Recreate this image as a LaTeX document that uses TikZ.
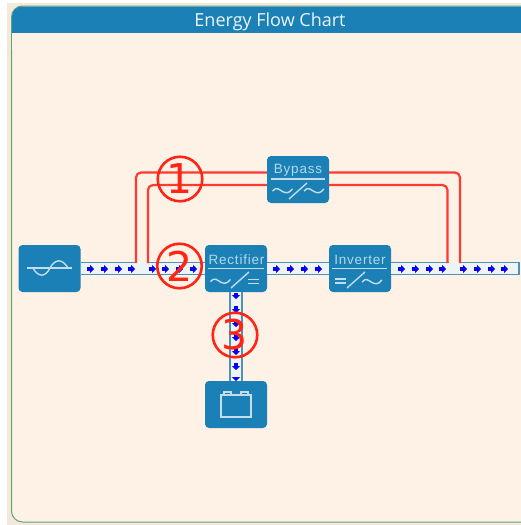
\documentclass[tikz,border=0pt]{standalone}
\usepackage{fontspec}
\setmainfont{Open Sans}
\newfontfamily\boxfont[LetterSpace=6]{Liberation Sans}
\newfontfamily\digitfont{DejaVu Sans}
\usetikzlibrary{arrows.meta}
\definecolor{upsblue}{HTML}{1A80B6}
\definecolor{panelbg}{HTML}{FEF1E6}
\definecolor{outerbg}{HTML}{F3E8DC}
\definecolor{panelline}{HTML}{5FA673}
\definecolor{buswall}{HTML}{4C93BC}
\definecolor{businner}{HTML}{EEF3F4}
\definecolor{iconline}{HTML}{C3DEEA}
\definecolor{labeltext}{HTML}{B4D9EB}
\definecolor{feedred}{HTML}{FF3A30}
\definecolor{markred}{HTML}{FF2414}
\definecolor{flowblue}{HTML}{0C00F0}
\tikzset{
    unit/.style = {fill = upsblue, rounded corners = 4, minimum width = 62, minimum height = 47, inner sep = 0},
    unitlabel/.style = {text = labeltext, font = \boxfont\fontsize{13.5}{15}\selectfont, inner sep = 0},
    icon/.style = {draw = iconline, line width = 1.4},
    bus/.style = {double = businner, draw = buswall, line width = 1.6, double distance = 10.4},
    flow/.style = {draw = flowblue, line width = 3.2, -{Triangle[length = 4, width = 8]}},
    feed/.style = {draw = feedred, line width = 2.2, rounded corners = 5},
    marker/.style = {circle, draw = markred, line width = 2.6, minimum size = 44.5, inner sep = 0, text = markred, font = \digitfont\fontsize{41}{43}\selectfont},
    acwave/.pic = {\draw[icon] (-10,0) .. controls (-6,-5) and (-3,-1) .. (0,0.5) .. controls (3,2) and (6,3) .. (10,-2);}
}
\begin{document}
\begin{tikzpicture}[x = 1pt, y = -1pt]
    \useasboundingbox (0,0) rectangle (521,525);
    % page and panel
    \fill[white] (0,0) rectangle (521,525);
    \fill[outerbg] (7,3) rectangle (521,525);
    \begin{scope}
        \clip (0,0) rectangle (521,525);
        \draw[draw = panelline, fill = panelbg, line width = 1, rounded corners = 11] (540,6) -- (11.5,6) -- (11.5,522) -- (540,522);
        \fill[upsblue, rounded corners = 10] (540,45) -- (12,45) -- (12,6.5) -- (540,6.5);
        \fill[panelbg] (12,33) rectangle (521,50);
    \end{scope}
    \node[text = white!92!upsblue, font = \fontsize{18}{20}\selectfont, inner sep = 0] (title) at (270,22) {Energy Flow Chart};

    % units
    \node[unit] (source) at (49.5,268.5) {};
    \node[unit] (rectifier) at (236,268.5) {};
    \node[unit] (inverter) at (360,268.5) {};
    \node[unit] (bypass) at (298,179.5) {};
    \node[unit] (battery) at (236,404.5) {};
    \node[fill = buswall, minimum width = 1.6, minimum height = 13.6, inner sep = 0] (busend) at (519,268.5) {};
    \coordinate (tapa) at (136,263);
    \coordinate (tapb) at (148,263);
    \coordinate (tapc) at (447.5,263);
    \coordinate (tapd) at (460,263);

    % bus lines
    \draw[bus] (source) -- (rectifier);
    \draw[bus] (rectifier) -- (inverter);
    \draw[bus] (inverter) -- (busend);
    \draw[bus] (rectifier) -- (battery);
    \fill[businner] (137,261.5) rectangle (147,264);
    \fill[businner] (448.5,261.5) rectangle (459,264);

    % bypass lines
    \draw[feed] (tapa) |- ([yshift = 7]bypass.west);
    \draw[feed] (tapb) |- ([yshift = -5.5]bypass.west);
    \draw[feed] ([yshift = 7]bypass.east) -| (tapd);
    \draw[feed] ([yshift = -5.5]bypass.east) -| (tapc);

    % flow arrows
    \draw[flow] (87,269) -- (94,269);
    \draw[flow] (101,269) -- (108,269);
    \draw[flow] (115,269) -- (122,269);
    \draw[flow] (128,269) -- (135,269);
    \draw[flow] (149,269) -- (156,269);
    \draw[flow] (162,269) -- (169,269);
    \draw[flow] (176,269) -- (183,269);
    \draw[flow] (190,269) -- (197,269);
    \draw[flow] (273,269) -- (280,269);
    \draw[flow] (287,269) -- (294,269);
    \draw[flow] (301,269) -- (308,269);
    \draw[flow] (315,269) -- (322,269);
    \draw[flow] (398,269) -- (405,269);
    \draw[flow] (412,269) -- (419,269);
    \draw[flow] (426,269) -- (433,269);
    \draw[flow] (439,269) -- (446,269);
    \draw[flow] (460,269) -- (467,269);
    \draw[flow] (474,269) -- (481,269);
    \draw[flow] (488,269) -- (495,269);
    \draw[flow] (501,269) -- (508,269);
    \draw[flow] (236,293) -- (236,299);
    \draw[flow] (236,306) -- (236,313);
    \draw[flow] (236,320) -- (236,327);
    \draw[flow] (236,334) -- (236,341);
    \draw[flow] (236,348) -- (236,355);
    \draw[flow] (236,363) -- (236,370);
    \draw[flow] (236,377) -- (236,381);

    % source icon
    \draw[icon] (27,268) -- (72,268);
    \draw[icon] (33,268) .. controls (38,277) and (45,278) .. (50,268) .. controls (55,259) and (62,258) .. (68,268);

    % rectifier icon
    \node[unitlabel] (rectifierlabel) at (236.5,260) {Rectifier};
    \draw[icon] (208,268.5) -- (264,268.5);
    \pic at (220.5,281.5) {acwave};
    \draw[icon] (231,288) -- (249,272);
    \draw[icon] (248,279.5) -- (259,279.5);
    \draw[icon] (248,283.5) -- (259,283.5);

    % inverter icon
    \node[unitlabel] (inverterlabel) at (360,260) {Inverter};
    \draw[icon] (332,268.5) -- (387,268.5);
    \draw[icon] (335,279) -- (346,279);
    \draw[icon] (335,283) -- (346,283);
    \draw[icon] (347,288) -- (365,272);
    \pic at (372,282) {acwave};

    % bypass icon
    \node[unitlabel] (bypasslabel) at (298,170) {Bypass};
    \draw[icon] (271,179) -- (325,179);
    \pic at (282.5,191) {acwave};
    \draw[icon] (289,199) -- (307,183);
    \pic at (314,191) {acwave};

    % battery icon
    \draw[icon] (221,395) rectangle (251,417);
    \draw[icon] (224,395) -- (224,392) -- (231,392) -- (231,395);
    \draw[icon] (241,395) -- (241,392) -- (248,392) -- (248,395);

    % markers
    \node[marker] (markone) at (180,179) {1};
    \node[marker] (marktwo) at (179.5,266) {2};
    \node[marker] (markthree) at (235,335) {3};
\end{tikzpicture}
\end{document}
